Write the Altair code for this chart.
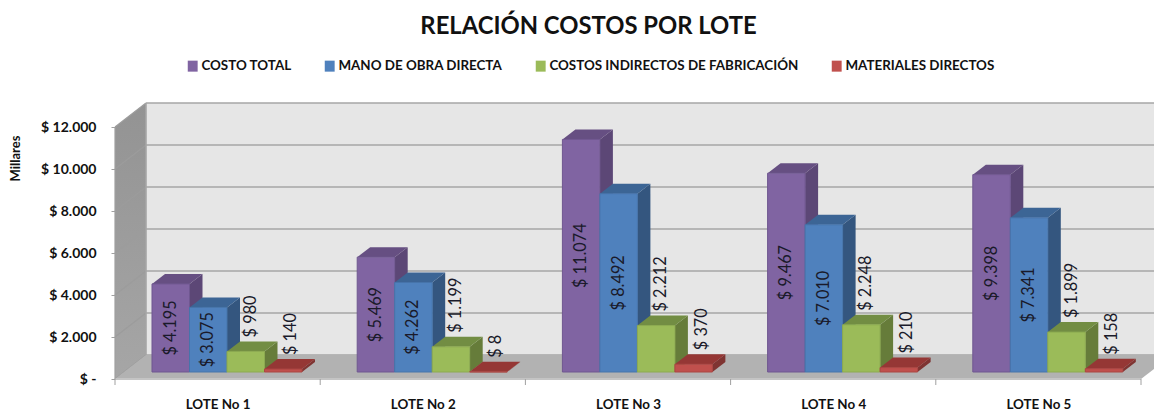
import json
import altair as alt
import pandas as pd

lotes = ["LOTE No 1", "LOTE No 2", "LOTE No 3", "LOTE No 4", "LOTE No 5"]
series = ["COSTO TOTAL", "MANO DE OBRA DIRECTA", "COSTOS INDIRECTOS DE FABRICACIÓN", "MATERIALES DIRECTOS"]
costo_total = [4195, 5469, 11074, 9467, 9398]
mano_obra = [3075, 4262, 8492, 7010, 7341]
indirectos = [980, 1199, 2212, 2248, 1899]
materiales = [140, 8, 370, 210, 158]
values = [costo_total, mano_obra, indirectos, materiales]
y_ticks = [0, 2000, 4000, 6000, 8000, 10000, 12000]
front = ["#8064A2", "#4F81BD", "#9BBB59", "#C0504D"]
side = ["#5C4776", "#34567F", "#667C3A", "#7F3432"]
top = ["#664F82", "#3C6595", "#728D43", "#953735"]
edge = ["#6F5790", "#4674AA", "#8CAA50", "#AA4643"]

FONT = "Lato"
PW = 1039
PXX = 1 / 205.2   # x units per pixel (one unit = one category)
PXY = 1000 / 21   # y units per pixel
XMAX = PW * PXX
YMAX = 276 * PXY
WX, WY = 31 * PXX, 24 * PXY     # wall depth
BX, BY = 13 * PXX, 10 * PXY     # bar depth
BASEY = 7 * PXY                 # bar base above front floor edge
BARW = 37.5 * PXX
BAR0 = 37 * PXX

xs = alt.Scale(domain=[0, XMAX], nice=False, zero=False)
ys = alt.Scale(domain=[0, YMAX], nice=False, zero=False)

x_axis = alt.Axis(
    title=None, values=[0.5 + i for i in range(5)], grid=False, domain=False, ticks=False,
    labelExpr=f"{json.dumps(lotes)}[floor(datum.value)]",
    labelFont=FONT, labelFontWeight="bold", labelFontSize=13.4, labelColor="#111111", labelPadding=18,
)
y_axis = alt.Axis(
    title="Millares", titleFont=FONT, titleFontWeight="bold", titleFontSize=13, titleColor="#111111",
    titleX=-93, titleY=55, titleAngle=270,
    values=y_ticks, grid=False, domain=False, tickSize=4, tickColor="#A0A0A0",
    labelExpr="datum.value == 0 ? '$ -' : '$ ' + replace(format(datum.value, ',d'), ',', '.')",
    labelFont=FONT, labelFontWeight="bold", labelFontSize=14, labelColor="#111111", labelPadding=15,
)


def X(f="x"):
    return alt.X(f"{f}:Q", scale=xs, axis=x_axis)


def Y(f="y"):
    return alt.Y(f"{f}:Q", scale=ys, axis=y_axis, stack=None)


def poly(points, color, clip=False):
    df = pd.DataFrame(points, columns=["x", "y", "y2"])
    return alt.Chart(df).mark_area(color=color, clip=clip, orient="vertical").encode(
        x=X(), y=Y(), y2="y2:Q"
    )


wall_grad = alt.Gradient(
    gradient="linear", x1=0, x2=0, y1=0, y2=1,
    stops=[alt.GradientStop(offset=0, color="#939393"), alt.GradientStop(offset=1, color="#A6A6A6")],
)
left_wall = poly([(0, 0, 12000), (WX, WY, 12000 + WY)], wall_grad)
back = alt.Chart(pd.DataFrame({"x": [WX], "x2": [XMAX], "y": [WY], "y2": [YMAX]})).mark_rect(
    color="#E6E6E6").encode(x=X(), x2="x2:Q", y=Y(), y2="y2:Q")
floor = poly([(0, 0, 0), (WX, 0, WY), (5, 0, WY), (5 + WX, WY, WY)], "#B2B2B2", clip=True)

grid = pd.DataFrame({"v": y_ticks})
grid["y"] = grid.v + WY
grid["x"] = WX
grid["x2"] = XMAX
back_lines = alt.Chart(grid).mark_rule(color="#A6A6A6", strokeWidth=1.6).encode(
    x=X(), x2="x2:Q", y=Y())
wall_rows = []
for v in y_ticks:
    wall_rows += [{"v": v, "x": 0, "y": v}, {"v": v, "x": WX, "y": v + WY}]
wall_lines = alt.Chart(pd.DataFrame(wall_rows)).mark_line(color="#9C9C9C", strokeWidth=1.2).encode(
    x=X(), y=Y(), detail="v:N")
back_edge = alt.Chart(pd.DataFrame({"x": [WX], "y": [WY], "y2": [YMAX]})).mark_rule(
    color="#A6A6A6", strokeWidth=1.6).encode(x=X(), y=Y(), y2="y2:Q")

y_rule = alt.Chart(pd.DataFrame({"x": [0], "y": [0], "y2": [12000]})).mark_rule(
    color="#A0A0A0", strokeWidth=1.2).encode(x=X(), y=Y(), y2="y2:Q")
x_rule = alt.Chart(pd.DataFrame({"x": [0], "x2": [5], "y": [0]})).mark_rule(
    color="#C4C4C4", strokeWidth=2).encode(x=X(), x2="x2:Q", y=Y())
x_ticks = alt.Chart(pd.DataFrame({"x": list(range(6)), "y": [0] * 6, "y2": [-6 * PXY] * 6})).mark_rule(
    color="#A0A0A0", strokeWidth=1, clip=False).encode(x=X(), y=Y(), y2="y2:Q")

layers = [left_wall, back, wall_lines, back_lines, back_edge, floor, x_rule, y_rule, x_ticks]

label_rows = []
for j, name in enumerate(series):
    rows = []
    for i, v in enumerate(values[j]):
        x0 = i + BAR0 + j * BARW
        rows.append({"x": x0, "x2": x0 + BARW, "y": BASEY, "y2": BASEY + v, "serie": name, "i": i})
        inside = j < 2
        label_rows.append({
            "x": x0 + BARW / 2 + (0 if inside else (5 if j == 2 else 8) * PXX),
            "y": BASEY + v / 2 if inside else BASEY + v + BY + 4 * PXY,
            "t": "$ " + f"{v:,}".replace(",", "."),
            "align": "center" if inside else "left",
        })
    fdf = pd.DataFrame(rows)
    s_rows, t_rows = [], []
    for r in rows:
        k = r["i"]
        s_rows += [
            {"x": r["x2"], "y": r["y"], "y2": r["y2"], "k": k},
            {"x": r["x2"] + BX, "y": r["y"] + BY, "y2": r["y2"] + BY, "k": k},
        ]
        t = r["y2"]
        t_rows += [
            {"x": r["x"], "y": t, "y2": t, "k": k},
            {"x": r["x"] + BX, "y": t, "y2": t + BY, "k": k},
            {"x": r["x2"], "y": t, "y2": t + BY, "k": k},
            {"x": r["x2"] + BX, "y": t + BY, "y2": t + BY, "k": k},
        ]
    layers.append(alt.Chart(pd.DataFrame(s_rows)).mark_area(color=side[j], orient="vertical").encode(
        x=X(), y=Y(), y2="y2:Q", detail="k:N"))
    layers.append(alt.Chart(pd.DataFrame(t_rows)).mark_area(color=top[j], orient="vertical").encode(
        x=X(), y=Y(), y2="y2:Q", detail="k:N"))
    layers.append(alt.Chart(fdf).mark_rect(stroke=edge[j], strokeWidth=1).encode(
        x=X(), x2="x2:Q", y=Y(), y2="y2:Q",
        color=alt.Color("serie:N", scale=alt.Scale(domain=series, range=front), legend=alt.Legend(
            title=None, orient="none", legendX=71, legendY=-44, direction="horizontal", columns=4,
            columnPadding=31, symbolType="M-0.9,-1H0.9V1H-0.9Z", symbolSize=121, symbolStrokeWidth=0,
            labelOffset=2, gridAlign="each", labelFont=FONT, labelFontWeight="bold", labelFontSize=13.4,
            labelColor="#111111", labelLimit=400,
        )),
    ))

ldf = pd.DataFrame(label_rows)
for al in ["center", "left"]:
    layers.append(alt.Chart(ldf[ldf["align"] == al]).mark_text(
        angle=270, align=al, baseline="middle", font=FONT, fontSize=16.3, color="#1A1A2A"
    ).encode(x=X(), y=Y(), text="t:N"))

chart = alt.layer(*layers).properties(
    width=PW,
    height=276,
    autosize="none",
    padding={"left": 107, "top": 95, "right": 0, "bottom": 33},
    title=alt.TitleParams(
        "RELACIÓN COSTOS POR LOTE", font=FONT, fontWeight="bold", fontSize=23.8, color="#111111",
        anchor="middle", frame="group", dx=-46, offset=20,
    ),
).configure_view(stroke=None)

chart.save("out.html", embed_options={"renderer": "svg", "actions": False})
